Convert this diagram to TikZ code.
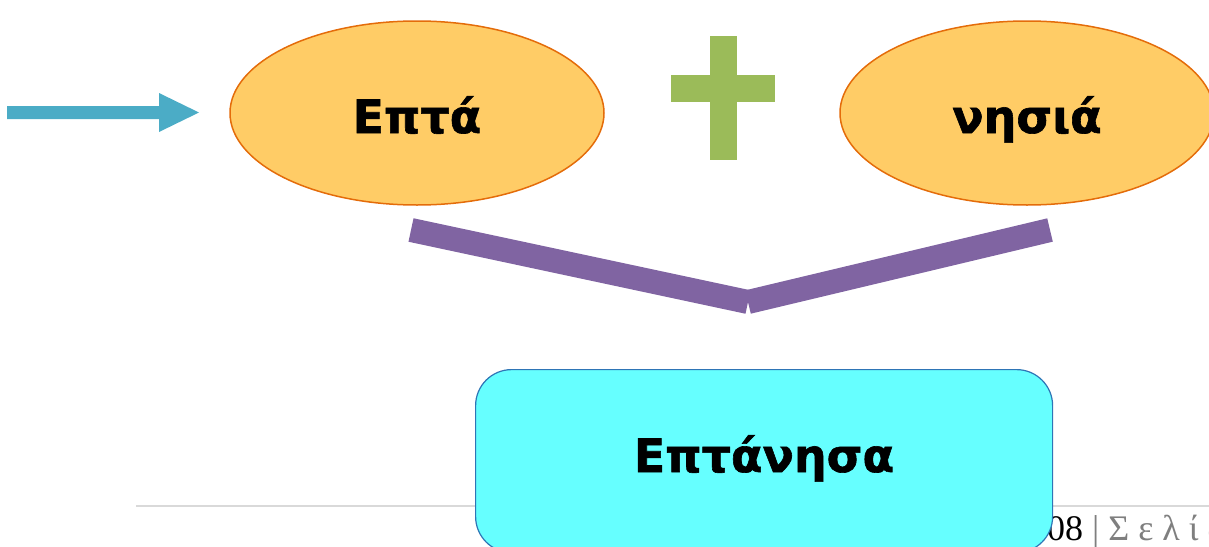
\documentclass[tikz,border=0pt]{standalone}
\usepackage{fontspec}
\setmainfont{DejaVu Sans}[BoldFeatures={FakeBold=1.3}]
\newfontfamily\pagefont{Liberation Serif}
\usetikzlibrary{shapes.geometric}
\definecolor{ellfill}{HTML}{FFCC66}
\definecolor{elldraw}{HTML}{E46C0A}
\definecolor{arrowblue}{HTML}{4BACC6}
\definecolor{plusgreen}{HTML}{9BBB59}
\definecolor{vpurple}{HTML}{8064A2}
\definecolor{boxfill}{HTML}{66FFFF}
\definecolor{boxdraw}{HTML}{2E75B6}
\definecolor{rulegray}{HTML}{D9D9D9}
\definecolor{pagegray}{HTML}{7F7F7F}
\tikzset{
  wordell/.style={ellipse, fill=ellfill, draw=elldraw, line width=1.5pt,
    minimum width=374pt, minimum height=184pt, inner sep=0pt},
  bigword/.style={font=\fontsize{46}{50}\selectfont\bfseries},
  vbar/.style={draw=vpurple, line width=24pt, line cap=butt},
}
\begin{document}
\begin{tikzpicture}[x=1pt,y=-1pt]
\useasboundingbox (0,0) rectangle (1209,546);
% footer rule and page label (behind the box)
\draw[rulegray, line width=1.5pt] (136,506) -- (1209,506);
\node[anchor=base west, inner sep=0pt, font=\pagefont\fontsize{36}{40}\selectfont] (pg) at (1029,540)
  {108 \textcolor{pagegray}{| Σ ε λ ί δ}};
% blue arrow
\fill[arrowblue] (7,106) -- (159,106) -- (159,93) -- (199,112.5) -- (159,132) -- (159,119) -- (7,119) -- cycle;
% ellipses
\node[wordell] (left) at (417,113) {};
\node[wordell] (right) at (1027,113) {};
\node[bigword, anchor=base] (lt) at (417,133) {Επτά};
\node[bigword, anchor=base] (rt) at (1027,133) {νησιά};
% plus
\fill[plusgreen] (710,36) rectangle (737,160);
\fill[plusgreen] (671,75) rectangle (775,102);
% purple V
\coordinate (vl) at (411,230);
\coordinate (vm) at (748,302);
\coordinate (vr) at (1050,230);
\draw[vbar] (vl) -- (vm);
\draw[vbar] (vm) -- (vr);
% result box
\node[draw=boxdraw, fill=boxfill, line width=1.2pt, rounded corners=36pt,
  minimum width=577pt, minimum height=183pt, anchor=north west, inner sep=0pt] (box) at (475,369) {};
\node[bigword, anchor=base] (bt) at (764,472) {Επτάνησα};
\end{tikzpicture}
\end{document}
